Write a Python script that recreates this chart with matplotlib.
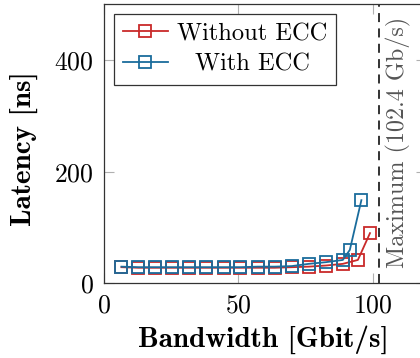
import matplotlib
matplotlib.use("Agg")
import matplotlib.pyplot as plt

# Data
bw_no_ecc = [6.5, 12.8, 19.1, 25.4, 31.8, 38.1, 44.5, 50.8, 57.2, 63.5, 69.9, 76.2, 82.6, 88.9, 94.5, 99.0]
lat_no_ecc = [29, 28, 28, 28, 28, 28, 28, 28, 28, 28, 29, 30, 32, 35, 42, 90]
bw_ecc = [6.5, 12.8, 19.1, 25.4, 31.8, 38.1, 44.5, 50.8, 57.2, 63.5, 69.9, 76.2, 82.6, 88.9, 91.5, 95.8]
lat_ecc = [30, 29, 29, 29, 29, 29, 29, 29, 30, 30, 31, 35, 38, 42, 60, 149]
max_bw = 102.4
labels = ["Without ECC", "With ECC"]
xticks = [0, 50, 100]
yticks = [0, 200, 400]

red = "#c92a2a"
blue = "#1a6c9c"

plt.rcParams["font.family"] = "cmr10"
plt.rcParams["axes.formatter.use_mathtext"] = True
plt.rcParams["mathtext.fontset"] = "cm"

fig = plt.figure(figsize=(4.2, 3.58), dpi=100)
ax = fig.add_axes([104/420, 1 - 283.4/358, 322.4/420, 279.3/358])

mk = dict(marker="s", markersize=8.5, markerfacecolor="none", markeredgewidth=1.3, linewidth=1.3)
ax.plot(bw_no_ecc, lat_no_ecc, color=red, label=labels[0], **mk)
ax.plot(bw_ecc, lat_ecc, color=blue, label=labels[1], **mk)

ax.axvline(max_bw, color="#222222", linestyle=(0, (5, 3.5)), linewidth=1.3)
ax.text(max_bw + 7.2, 252, "Maximum (102.4 Gb/s)", rotation=90, ha="center", va="center",
        color="#555555", fontsize=17.4)

ax.set_xlim(0, 120)
ax.set_ylim(0, 500)
ax.set_xticks(xticks)
ax.set_yticks(yticks)
ax.tick_params(direction="in", length=7, width=0.8, color="#b0b0b0", labelsize=18.5,
               top=True, right=True, pad=7.5)
for s in ax.spines.values():
    s.set_color("#333333")
    s.set_linewidth(0.9)

ax.set_xlabel("Bandwidth [Gbit/s]", fontfamily="cmb10", fontsize=21)
ax.set_ylabel("Latency [ns]", fontfamily="cmb10", fontsize=21)
ax.xaxis.set_label_coords(0.493, -0.203)
ax.xaxis.label.set_va("center")
ax.yaxis.set_label_coords(-0.248, 0.481)
ax.yaxis.label.set_va("center")

leg = ax.legend(loc="upper left", fontsize=17.6, frameon=True, fancybox=False,
                edgecolor="#333333", framealpha=1, handlelength=1.85, handletextpad=0.37,
                borderaxespad=0.4, borderpad=0.37, labelspacing=0.35)
leg.get_frame().set_linewidth(0.9)

# center the legend labels within the text column (as in the original)
fig.canvas.draw()
texts = leg.get_texts()
widths = [t.get_window_extent().width for t in texts]
wmax = max(widths)
for t, w in zip(texts, widths):
    t.set_x((wmax - w) / 2)

fig.savefig("out.png", dpi=100)
